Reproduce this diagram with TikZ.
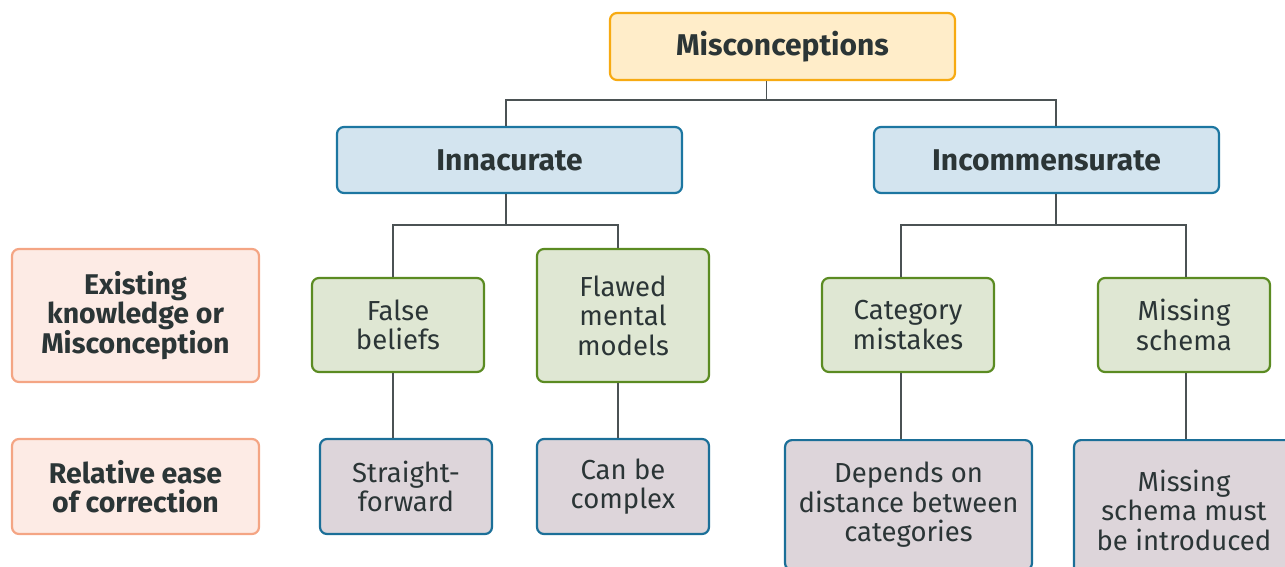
\documentclass[tikz,border=0pt]{standalone}
\usepackage{fontspec}
\setmainfont{Fira Sans}

\definecolor{inkgray}{HTML}{2B3536}
\definecolor{linegray}{HTML}{4B5254}
\definecolor{mistfill}{HTML}{FFEDC9}
\definecolor{mistline}{HTML}{F7AA12}
\definecolor{typefill}{HTML}{D3E4EF}
\definecolor{typeline}{HTML}{1C76A1}
\definecolor{rowfill}{HTML}{FDEBE5}
\definecolor{rowline}{HTML}{F4A584}
\definecolor{kindfill}{HTML}{DFE7D3}
\definecolor{kindline}{HTML}{5B8B22}
\definecolor{easefill}{HTML}{DDD5DA}
\definecolor{easeline}{HTML}{1B6F98}

\tikzset{
  box/.style={draw, rounded corners=7pt, line width=2.2pt, align=center,
    inner sep=0pt, text=inkgray, font=\fontsize{27.5}{29.5}\selectfont},
  topbox/.style={box, fill=mistfill, draw=mistline,
    minimum width=345pt, minimum height=67pt, font=\bfseries\fontsize{30}{32}\selectfont},
  typebox/.style={box, fill=typefill, draw=typeline,
    minimum width=345pt, minimum height=66pt, font=\bfseries\fontsize{30}{32}\selectfont},
  rowbox/.style={box, fill=rowfill, draw=rowline, minimum width=247pt,
    font=\bfseries\fontsize{28.5}{28.8}\selectfont},
  kindbox/.style={box, fill=kindfill, draw=kindline,
    minimum width=172pt, minimum height=94pt},
  easebox/.style={box, fill=easefill, draw=easeline,
    minimum width=172pt, minimum height=95pt},
  link/.style={draw=linegray, line width=1.3pt}
}

\begin{document}
\begin{tikzpicture}[x=1pt,y=-1pt]
  \useasboundingbox (0,0) rectangle (1285,567);
  \clip (0,0) rectangle (1285,567);

  % top of the tree
  \node[topbox] (mis) at (782.5,46.5) {Misconceptions};
  \node[typebox] (inacc) at (509.5,160) {Innacurate};
  \node[typebox] (incom) at (1046.5,160) {Incommensurate};

  % row labels
  \node[rowbox, minimum height=133pt] (rowa) at (135.5,315.5) {Existing\\knowledge or\\Misconception};
  \node[rowbox, minimum height=95pt] (rowb) at (135.5,486.5) {Relative ease\\of correction};

  % kinds of misconception
  \node[kindbox] (fb) at (398,325) {False\\beliefs};
  \node[kindbox, minimum height=133pt] (flawed) at (623,315.5) {Flawed\\mental\\models};
  \node[kindbox] (cat) at (908,325) {Category\\mistakes};
  \node[kindbox] (miss) at (1184,325) {Missing\\schema};

  % ease of correction
  \node[easebox] (straight) at (406,486.5) {Straight-\\forward};
  \node[easebox] (complex) at (623,486.5) {Can be\\complex};
  \node[easebox, minimum width=247pt, minimum height=130pt, anchor=north] (depends) at (908.5,439)
    {Depends on\\distance between\\categories};
  \node[easebox, minimum width=220pt, minimum height=140pt, anchor=north] (mustbe) at (1184,439)
    {Missing\\schema must\\be introduced};

  % connectors
  \draw[link] ([xshift=-16pt]mis.south) -- ++(0,19) coordinate (j0);
  \draw[link] ([xshift=-3.5pt]inacc.north) |- (j0) -| ([xshift=9.5pt]incom.north);

  \draw[link] ([xshift=-3.5pt]inacc.south) -- ++(0,31) coordinate (j1);
  \draw[link] ([xshift=-5pt]fb.north) |- (j1) -| ([xshift=-5pt]flawed.north);

  \draw[link] ([xshift=9.5pt]incom.south) -- ++(0,31) coordinate (j2);
  \draw[link] ([xshift=-7pt]cat.north) |- (j2) -| ([xshift=2pt]miss.north);

  \draw[link] ([xshift=-5pt]fb.south) -- ([xshift=-13pt]straight.north);
  \draw[link] ([xshift=-5pt]flawed.south) -- ([xshift=-5pt]complex.north);
  \draw[link] ([xshift=-7pt]cat.south) -- ([xshift=-7.5pt]depends.north);
  \draw[link] ([xshift=2pt]miss.south) -- ([xshift=2pt]mustbe.north);
\end{tikzpicture}
\end{document}
